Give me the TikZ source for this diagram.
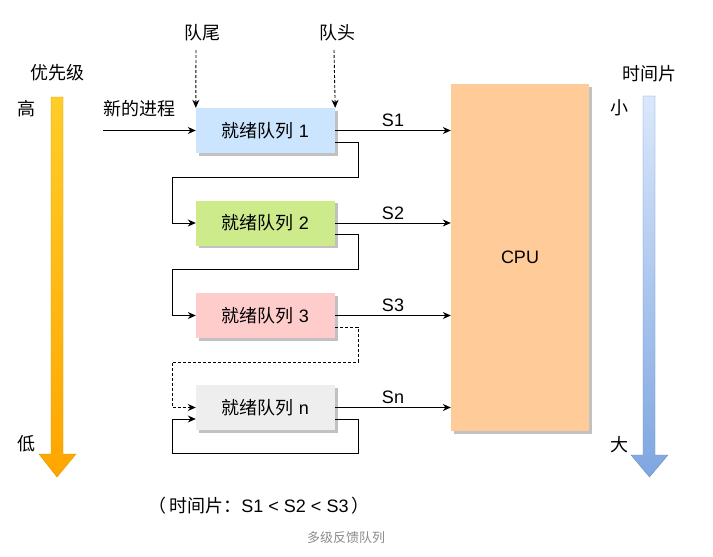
\documentclass[tikz,border=0pt]{standalone}
\usepackage{fontspec}
\setmainfont{Liberation Sans}
\newfontfamily\cjk{Noto Sans CJK SC}
\usetikzlibrary{arrows.meta,shadows}
\definecolor{qone}{HTML}{CCE5FF}
\definecolor{qtwo}{HTML}{CDEB8B}
\definecolor{qthree}{HTML}{FFCCCC}
\definecolor{qn}{HTML}{EEEEEE}
\definecolor{cpuc}{HTML}{FFCC99}
\tikzset{
  queue/.style={minimum width=139pt, minimum height=45pt, inner sep=0pt,
    drop shadow={shadow xshift=2.5pt, shadow yshift=-2.5pt, fill=black!30, opacity=0.8}},
  arr/.style={line width=1pt, -{Stealth[length=8pt,width=7pt]}},
  lbl/.style={inner sep=0pt, font=\fontsize{18}{21}\selectfont},
  slbl/.style={above, inner sep=3pt, font=\fontsize{18}{21}\selectfont},
}
\begin{document}
\begin{tikzpicture}[x=1pt,y=-1pt]
\useasboundingbox (0,0) rectangle (713,557);
\fill[white] (0,0) rectangle (713,557);

% priority arrow
\shade[top color={rgb,255:red,255;green,205;blue,40}, bottom color={rgb,255:red,255;green,165;blue,0}, draw={rgb,255:red,215;green,155;blue,0}, line width=0.4pt]
  (51,97) -- (63,97) -- (63,454) -- (76,454) -- (57,477) -- (39,454) -- (51,454) -- cycle;
% time slice arrow
\shade[top color={rgb,255:red,218;green,232;blue,252}, bottom color={rgb,255:red,126;green,166;blue,224}, draw={rgb,255:red,108;green,142;blue,191}, line width=0.4pt]
  (643,96) -- (655,96) -- (655,455) -- (668,455) -- (649.5,477) -- (631,455) -- (643,455) -- cycle;

\node[lbl] (prio) at (57.5,73) {\cjk 优先级};
\node[lbl] (high) at (26,109) {\cjk 高};
\node[lbl] (low) at (26,444) {\cjk 低};
\node[lbl] (slice) at (649,74) {\cjk 时间片};
\node[lbl] (small) at (619,108) {\cjk 小};
\node[lbl] (big) at (619,445) {\cjk 大};

% queues
\node[queue, fill=qone] (q1) at (265.5,130.5) {\fontsize{18}{21}\selectfont{\cjk 就绪队列} 1};
\node[queue, fill=qtwo] (q2) at (265.5,223) {\fontsize{18}{21}\selectfont{\cjk 就绪队列} 2};
\node[queue, fill=qthree] (q3) at (265.5,315.5) {\fontsize{18}{21}\selectfont{\cjk 就绪队列} 3};
\node[queue, fill=qn] (qn) at (265.5,407.5) {\fontsize{18}{21}\selectfont{\cjk 就绪队列} n};

% cpu
\node[minimum width=138pt, minimum height=347pt, inner sep=0pt, fill=cpuc,
  drop shadow={shadow xshift=3pt, shadow yshift=-3pt, fill=black!30, opacity=0.8}]
  (cpu) at (520,257.5) {\fontsize{18}{21}\selectfont CPU};

% tail/head
\node[lbl] (tail) at (202,33) {\cjk 队尾};
\node[lbl] (head) at (337,33) {\cjk 队头};
\coordinate (tailtop) at (196,50);
\coordinate (headtop) at (334,50);
\draw[arr, densely dashed, line width=0.9pt] (tailtop) -- (q1.north west);
\draw[arr, densely dashed, line width=0.9pt] (headtop) -- (q1.north east);

% new process
\node[lbl] (newp) at (139,109) {\cjk 新的进程};
\coordinate (newstart) at (103,130.5);
\draw[arr] (newstart) -- (q1.west);

% to CPU
\draw[arr] (q1.east) -- (q1.east -| cpu.west) node[midway, slbl] {S1};
\draw[arr] (q2.east) -- (q2.east -| cpu.west) node[midway, slbl] {S2};
\draw[arr] (q3.east) -- (q3.east -| cpu.west) node[midway, slbl] {S3};
\draw[arr] (qn.east) -- (qn.east -| cpu.west) node[midway, slbl] {Sn};

% feedback loops
\coordinate (r1) at (358,177);
\coordinate (l1) at (172,177);
\coordinate (r2) at (358,269);
\coordinate (l2) at (172,269);
\coordinate (r3) at (358,362);
\coordinate (l3) at (172,362);
\coordinate (rn) at (358,453);
\coordinate (ln) at (172,453);
\draw[arr] ([yshift=-11.5pt]q1.east) -| (r1) -- (l1) |- (q2.west);
\draw[arr] ([yshift=-11.5pt]q2.east) -| (r2) -- (l2) |- (q3.west);
\draw[arr, densely dashed] ([yshift=-11.5pt]q3.east) -| (r3) -- (l3) |- (qn.west);
\draw[arr] ([yshift=-11.5pt]qn.east) -| (rn) -- (ln) |- ([yshift=-11.5pt]qn.west);

% bottom texts
\node[lbl] (note) at (259,506) {{\cjk （\,时间片：}S1 < S2 < S3{\cjk \,）}};
\node[inner sep=0pt, text=black!45, font=\fontsize{13}{15}\selectfont\cjk] (cap) at (346,538) {多级反馈队列};
\end{tikzpicture}
\end{document}
